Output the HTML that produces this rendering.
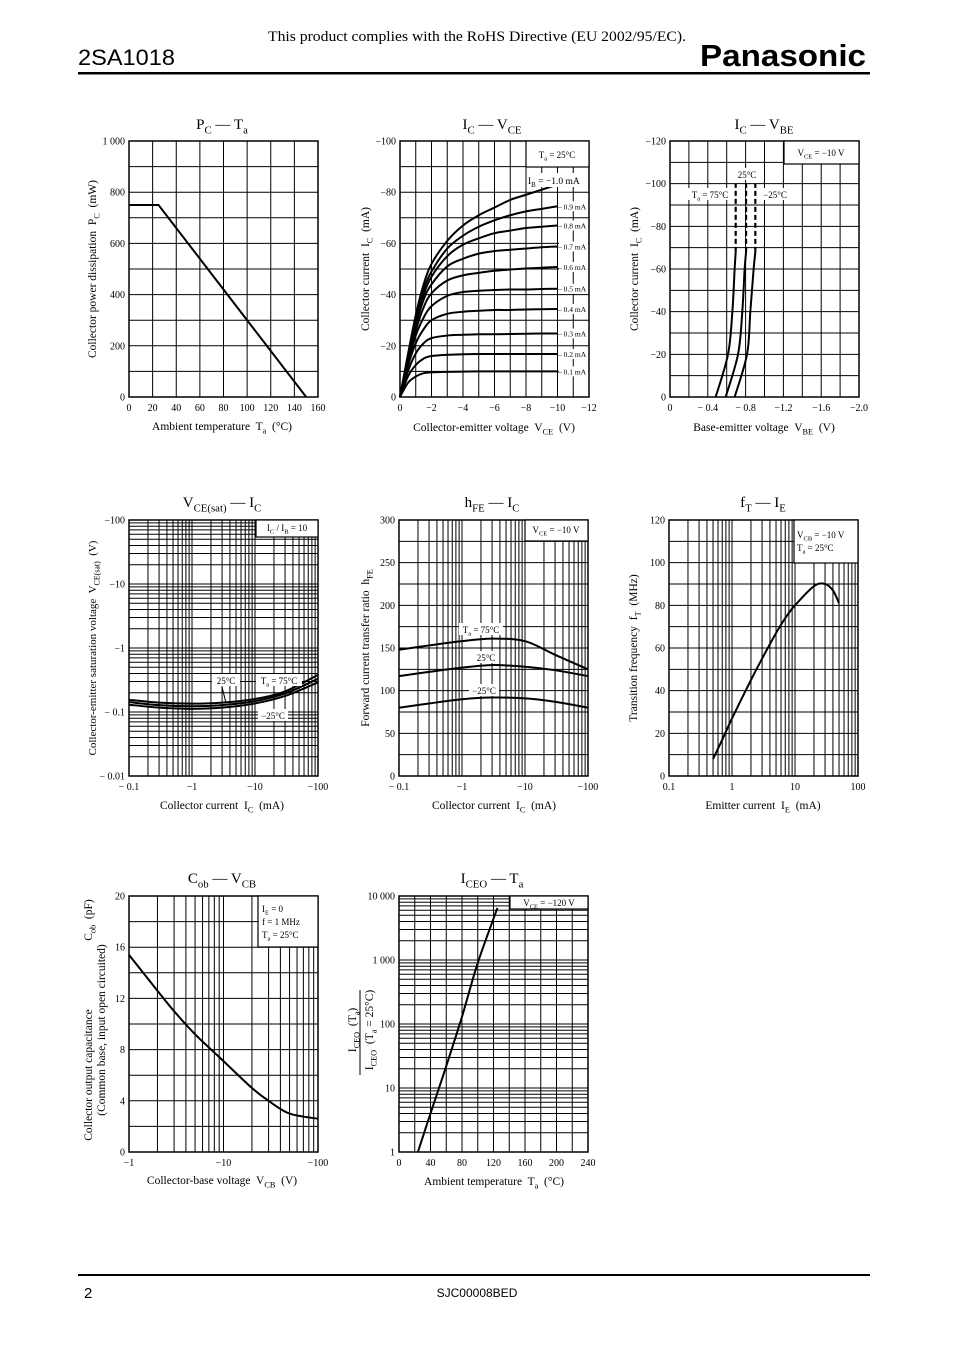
<!DOCTYPE html>
<html><head><meta charset="utf-8"><style>
html,body{margin:0;padding:0;background:#fff}
svg{display:block}
text{font-family:"Liberation Serif",serif;fill:#000;white-space:pre}
.sans{font-family:"Liberation Sans",sans-serif}
</style></head><body>
<svg id="page" width="954" height="1348" viewBox="0 0 954 1348" xmlns="http://www.w3.org/2000/svg">
<rect x="0" y="0" width="954" height="1348" fill="#fff"/>
<text x="268" y="41" font-size="15" textLength="418" lengthAdjust="spacingAndGlyphs">This product complies with the RoHS Directive (EU 2002/95/EC).</text>
<text class="sans" x="78" y="65" font-size="22" textLength="97" lengthAdjust="spacingAndGlyphs">2SA1018</text>
<text class="sans" x="700" y="66" font-size="31" font-weight="bold" textLength="166" lengthAdjust="spacingAndGlyphs">Panasonic</text>
<rect x="78" y="72" width="792" height="2.5" fill="#000"/>
<rect x="78" y="1274" width="792" height="2" fill="#000"/>
<text class="sans" x="84" y="1298" font-size="15">2</text>
<text class="sans" x="477" y="1297" font-size="12" text-anchor="middle">SJC00008BED</text>
</svg>
<script>
// ---- data ----
const pcTemps=[0,25,150];
const pcValues=[750,750,0];

const vceValues=[0,0.5,1,1.5,2,3,4,5,6,7,8,9,10];
const ibLabels=['0.1 mA','0.2 mA','0.3 mA','0.4 mA','0.5 mA','0.6 mA','0.7 mA','0.8 mA','0.9 mA','1.0 mA'];
const icIb01=[0,5.5,8,9.3,9.6,9.8,9.9,10,10,10,10,10,10];
const icIb02=[0,8,12.5,15,16,16.5,16.7,16.8,16.8,16.8,16.8,16.8,16.8];
const icIb03=[0,10,17,21,23,24,24.3,24.5,24.5,24.6,24.7,24.8,24.8];
const icIb04=[0,12,21,26.5,30,32.5,33.3,33.7,34,34,34.2,34.3,34.4];
const icIb05=[0,13,24,31,35.5,39.5,41,41.5,41.8,42,42,42.2,42.3];
const icIb06=[0,14,26,35,40.5,45.5,47.5,48.5,49.3,49.8,50.2,50.5,50.8];
const icIb07=[0,15,28,38,44,51,54,56,57,57.5,58,58.5,58.8];
const icIb08=[0,15.5,30,40,47,55,59.5,62,64,65,66,66.5,67];
const icIb09=[0,16,31,42,49,58,63,66.5,69,71,72.5,73.5,74.5];
const icIb10=[0,16.5,32,44,52,61,67,71,74,77,79,81,83];

const vbeIc=[0,20,40,60,68];
const vbe75=[0.483,0.614,0.66,0.684,0.695];
const vbe25=[0.589,0.72,0.765,0.79,0.805];
const vbeM25=[0.684,0.815,0.85,0.885,0.903];
const vbeDashTop=100;

const satIc=[0.1,0.3,1,3,10,30,100];
const sat75=[0.155,0.14,0.135,0.14,0.16,0.21,0.38];
const sat25=[0.143,0.128,0.123,0.128,0.148,0.195,0.33];
const satM25=[0.13,0.117,0.112,0.117,0.136,0.178,0.29];

const hfeIc=[0.1,0.3,1,3,10,30,100];
const hfe75=[148,153,158,161,158,142,125];
const hfe25=[117,122,127,130,128,124,117];
const hfeM25=[80,85,90,92,91,87,80];

const ftIe=[0.5,0.7,1,2,3,5,7,10,20,30,40,50];
const ftValues=[8,17,27,45,55,67,74,80,89,90,87,81];

const cobVcb=[1,2,3,5,10,20,30,50,100];
const cobValues=[15.4,12.6,11,9.2,7.1,5,4,3,2.6];

const iceoTa=[24,40,60,80,100,125];
const iceoRatio=[1,4,22,130,900,6500];

// ---- helpers ----
const NS='http://www.w3.org/2000/svg';
const svg=document.getElementById('page');
function el(tag,attrs,name,parent){
  const e=document.createElementNS(NS,tag);
  for(const k in attrs) e.setAttribute(k,attrs[k]);
  
  
  (parent||svg).appendChild(e);
  return e;
}
function lin(d0,d1,r0,r1){return v=>r0+(v-d0)/(d1-d0)*(r1-r0);}
function lg(d0,d1,r0,r1){const a=Math.log10(d0),b=Math.log10(d1);return v=>r0+(Math.log10(Math.abs(v))-a)/(b-a)*(r1-r0);}
function steps(a,b,s){const r=[];for(let v=a;v<=b+1e-9;v+=s)r.push(+v.toFixed(6));return r;}
function logSteps(a,b){const r=[];for(let d=a;d<b*0.999;d*=10){for(let m=1;m<10;m++)r.push(d*m);}r.push(b);return r;}
function tx(x,y,spec,size,anchor,name,parent,rot){
  const t=el('text',{x:x,y:y,'font-size':size,'text-anchor':anchor||'start'},name,parent);
  if(rot) t.setAttribute('transform','rotate(-90 '+x+' '+y+')');
  const parts=spec.split(/_\{([^}]*)\}/);
  parts.forEach((p,i)=>{
    if(p==='')return;
    const ts=document.createElementNS(NS,'tspan');
    ts.textContent=p;
    if(i%2===1){ts.setAttribute('font-size',size*0.72);ts.setAttribute('dy',size*0.3);}
    else if(i>0){ts.setAttribute('dy',-size*0.3);}
    t.appendChild(ts);
  });
  return t;
}
function smooth(pts){
  if(pts.length<3) return 'M'+pts.map(p=>p.join(',')).join('L');
  let d='M'+pts[0][0]+','+pts[0][1];
  for(let i=0;i<pts.length-1;i++){
    const p0=pts[i-1]||pts[i],p1=pts[i],p2=pts[i+1],p3=pts[i+2]||p2;
    const c1=[p1[0]+(p2[0]-p0[0])/6,p1[1]+(p2[1]-p0[1])/6];
    const c2=[p2[0]-(p3[0]-p1[0])/6,p2[1]-(p3[1]-p1[1])/6];
    d+='C'+c1.join(',')+' '+c2.join(',')+' '+p2.join(',');
  }
  return d;
}
function makeChart(name,x0,x1,y0,y1,sx,sy,gx,gy){
  const g=el('g',{},name);
  const grid=el('g',{stroke:'#000','stroke-width':1,fill:'none'},'grid',g);
  gx.forEach(v=>{const x=sx(v);el('line',{x1:x,x2:x,y1:y0,y2:y1},'grid-line-x',grid);});
  gy.forEach(v=>{const y=sy(v);el('line',{x1:x0,x2:x1,y1:y,y2:y},'grid-line-y',grid);});
  el('rect',{x:x0,y:y0,width:x1-x0,height:y1-y0,fill:'none',stroke:'#000','stroke-width':1.5},'plot-frame',g);
  return {g,x0,x1,y0,y1,sx,sy};
}
function xTicks(c,vals,labels){vals.forEach((v,i)=>tx(c.sx(v),c.y1+14,labels[i],10,'middle','x-tick-label',c.g));}
function yTicks(c,vals,labels){vals.forEach((v,i)=>tx(c.x0-4,c.sy(v)+3.5,labels[i],10,'end','y-tick-label',c.g));}
function curve(c,xs,ys,name,extra){
  const pts=xs.map((x,i)=>[+c.sx(x).toFixed(2),+c.sy(ys[i]).toFixed(2)]);
  const a={d:smooth(pts),fill:'none',stroke:'#000','stroke-width':2};
  if(extra)for(const k in extra)a[k]=extra[k];
  return el('path',a,name,c.g);
}
function polyline(c,xs,ys,name){
  const pts=xs.map((x,i)=>c.sx(x).toFixed(2)+','+c.sy(ys[i]).toFixed(2)).join(' ');
  return el('polyline',{points:pts,fill:'none',stroke:'#000','stroke-width':2},name,c.g);
}
function box(c,x,y,w,h,name){return el('rect',{x:x,y:y,width:w,height:h,fill:'#fff',stroke:'#000','stroke-width':1.2},name,c.g);}

// ---- Chart 1: PC - Ta ----
let c=makeChart('pc-ta-chart',129,318,141,397,lin(0,160,129,318),lin(0,1000,397,141),steps(0,160,20),steps(0,1000,100));
tx(222,129,'P_{C} — T_{a}',15,'middle','chart-title',c.g);
xTicks(c,steps(0,160,20),['0','20','40','60','80','100','120','140','160']);
yTicks(c,steps(0,1000,200),['0','200','400','600','800','1 000']);
polyline(c,pcTemps,pcValues,'pc-derating-line');
tx(222,430,'Ambient temperature  T_{a}  (°C)',11.5,'middle','x-axis-title',c.g);
tx(96,269,'Collector power dissipation  P_{C}  (mW)',11.5,'middle','y-axis-title',c.g,true);

// ---- Chart 2: IC - VCE ----
c=makeChart('ic-vce-chart',400,589,141,397,lin(0,12,400,589),lin(0,100,397,141),steps(0,12,1),steps(0,100,10));
tx(492,129,'I_{C} — V_{CE}',15,'middle','chart-title',c.g);
xTicks(c,steps(0,12,2),['0','−2','−4','−6','−8','−10','−12']);
yTicks(c,steps(0,100,20),['0','−20','−40','−60','−80','−100']);
box(c,526,141,63,26,'condition-box');
tx(557,158,'T_{a} = 25°C',9,'middle','condition-label',c.g);
const ibSeries=[icIb01,icIb02,icIb03,icIb04,icIb05,icIb06,icIb07,icIb08,icIb09,icIb10];
ibSeries.forEach((s,i)=>{
  curve(c,vceValues,s,'ib-curve-'+(i+1));
  if(i<9){
    const y=c.sy(s[s.length-1]);
    el('rect',{x:559,y:y-5,width:29,height:10,fill:'#fff'},'ib-label-bg',c.g);
    tx(558,y+3,'– '+ibLabels[i],7.5,'start','ib-label',c.g);
  }
});
el('rect',{x:527,y:173,width:61,height:14,fill:'#fff'},'ib-label-bg',c.g);
tx(528,184,'I_{B} = −1.0 mA',9.5,'start','ib-label',c.g);
tx(494,431,'Collector-emitter voltage  V_{CE}  (V)',11.5,'middle','x-axis-title',c.g);
tx(369,269,'Collector current  I_{C}  (mA)',11.5,'middle','y-axis-title',c.g,true);

// ---- Chart 3: IC - VBE ----
c=makeChart('ic-vbe-chart',670,859,141,397,lin(0,2,670,859),lin(0,120,397,141),steps(0,2,0.2),steps(0,120,10));
tx(764,129,'I_{C} — V_{BE}',15,'middle','chart-title',c.g);
xTicks(c,steps(0,2,0.4),['0','− 0.4','− 0.8','−1.2','−1.6','−2.0']);
yTicks(c,steps(0,120,20),['0','−20','−40','−60','−80','−100','−120']);
box(c,784,141,75,23,'condition-box');
tx(821,156,'V_{CE} = −10 V',9,'middle','condition-label',c.g);
[[vbe75,'vbe-curve-75c'],[vbe25,'vbe-curve-25c'],[vbeM25,'vbe-curve-minus25c']].forEach(([s,n])=>{
  const pts=vbeIc.map((y,i)=>[+c.sx(s[i]).toFixed(2),+c.sy(y).toFixed(2)]);
  el('path',{d:smooth(pts),fill:'none',stroke:'#000','stroke-width':2},n,c.g);
  const xe=c.sx(s[s.length-1]);
  el('line',{x1:xe,x2:xe,y1:c.sy(vbeIc[vbeIc.length-1]),y2:c.sy(vbeDashTop),stroke:'#000','stroke-width':2.2,'stroke-dasharray':'5,3'},n+'-dashed',c.g);
});
el('rect',{x:735,y:168,width:26,height:12,fill:'#fff'},'label-bg',c.g);
tx(747,178,'25°C',9,'middle','temp-label',c.g);
el('rect',{x:686,y:188,width:47,height:12,fill:'#fff'},'label-bg',c.g);
tx(710,198,'T_{a} = 75°C',9,'middle','temp-label',c.g);
el('rect',{x:760,y:188,width:30,height:12,fill:'#fff'},'label-bg',c.g);
tx(775,198,'−25°C',9,'middle','temp-label',c.g);
tx(764,431,'Base-emitter voltage  V_{BE}  (V)',11.5,'middle','x-axis-title',c.g);
tx(638,269,'Collector current  I_{C}  (mA)',11.5,'middle','y-axis-title',c.g,true);

// ---- Chart 4: VCE(sat) - IC ----
c=makeChart('vcesat-ic-chart',129,318,520,776,lg(0.1,100,129,318),lg(0.01,100,776,520),logSteps(0.1,100),logSteps(0.01,100));
tx(222,507,'V_{CE(sat)} — I_{C}',15,'middle','chart-title',c.g);
xTicks(c,[0.1,1,10,100],['− 0.1','−1','−10','−100']);
yTicks(c,[0.01,0.1,1,10,100],['− 0.01','− 0.1','−1','−10','−100']);
box(c,256,520,62,17,'condition-box');
tx(287,531,'I_{C} / I_{B} = 10',9,'middle','condition-label',c.g);
curve(c,satIc,sat75,'vcesat-curve-75c');
curve(c,satIc,sat25,'vcesat-curve-25c');
curve(c,satIc,satM25,'vcesat-curve-minus25c');
el('rect',{x:212,y:674,width:28,height:12,fill:'#fff'},'label-bg',c.g);
tx(226,684,'25°C',9,'middle','temp-label',c.g);
el('line',{x1:222,x2:226,y1:687,y2:703,stroke:'#000','stroke-width':1},'label-arrow',c.g);
el('rect',{x:256,y:674,width:46,height:12,fill:'#fff'},'label-bg',c.g);
tx(279,684,'T_{a} = 75°C',9,'middle','temp-label',c.g);
el('rect',{x:258,y:709,width:30,height:12,fill:'#fff'},'label-bg',c.g);
tx(273,719,'−25°C',9,'middle','temp-label',c.g);
tx(222,809,'Collector current  I_{C}  (mA)',11.5,'middle','x-axis-title',c.g);
tx(96,648,'Collector-emitter saturation voltage  V_{CE(sat)}  (V)',11,'middle','y-axis-title',c.g,true);

// ---- Chart 5: hFE - IC ----
c=makeChart('hfe-ic-chart',399,588,520,776,lg(0.1,100,399,588),lin(0,300,776,520),logSteps(0.1,100),steps(0,300,25));
tx(492,507,'h_{FE} — I_{C}',15,'middle','chart-title',c.g);
xTicks(c,[0.1,1,10,100],['− 0.1','−1','−10','−100']);
yTicks(c,steps(0,300,50),['0','50','100','150','200','250','300']);
box(c,525,520,63,21,'condition-box');
tx(556,533,'V_{CE} = −10 V',9,'middle','condition-label',c.g);
curve(c,hfeIc,hfe75,'hfe-curve-75c');
curve(c,hfeIc,hfe25,'hfe-curve-25c');
curve(c,hfeIc,hfeM25,'hfe-curve-minus25c');
el('rect',{x:459,y:623,width:44,height:12,fill:'#fff'},'label-bg',c.g);
tx(481,633,'T_{a} = 75°C',9,'middle','temp-label',c.g);
el('rect',{x:473,y:651,width:26,height:12,fill:'#fff'},'label-bg',c.g);
tx(486,661,'25°C',9,'middle','temp-label',c.g);
el('rect',{x:469,y:684,width:30,height:12,fill:'#fff'},'label-bg',c.g);
tx(484,694,'−25°C',9,'middle','temp-label',c.g);
tx(494,809,'Collector current  I_{C}  (mA)',11.5,'middle','x-axis-title',c.g);
tx(369,648,'Forward current transfer ratio  h_{FE}',11.5,'middle','y-axis-title',c.g,true);

// ---- Chart 6: fT - IE ----
c=makeChart('ft-ie-chart',669,858,520,776,lg(0.1,100,669,858),lin(0,120,776,520),logSteps(0.1,100),steps(0,120,10));
tx(763,507,'f_{T} — I_{E}',15,'middle','chart-title',c.g);
xTicks(c,[0.1,1,10,100],['0.1','1','10','100']);
yTicks(c,steps(0,120,20),['0','20','40','60','80','100','120']);
box(c,794,520,64,43,'condition-box');
tx(797,538,'V_{CB} = −10 V',9,'start','condition-label',c.g);
tx(797,551,'T_{a} = 25°C',9,'start','condition-label',c.g);
curve(c,ftIe,ftValues,'ft-curve');
tx(763,809,'Emitter current  I_{E}  (mA)',11.5,'middle','x-axis-title',c.g);
tx(637,648,'Transition frequency  f_{T}  (MHz)',11.5,'middle','y-axis-title',c.g,true);

// ---- Chart 7: Cob - VCB ----
c=makeChart('cob-vcb-chart',129,318,896,1152,lg(1,100,129,318),lin(0,20,1152,896),logSteps(1,100),steps(0,20,2));
tx(222,883,'C_{ob} — V_{CB}',15,'middle','chart-title',c.g);
xTicks(c,[1,10,100],['−1','−10','−100']);
yTicks(c,steps(0,20,4),['0','4','8','12','16','20']);
box(c,258,896,60,51,'condition-box');
tx(262,912,'I_{E} = 0',9,'start','condition-label',c.g);
tx(262,925,'f = 1 MHz',9,'start','condition-label',c.g);
tx(262,938,'T_{a} = 25°C',9,'start','condition-label',c.g);
curve(c,cobVcb,cobValues,'cob-curve');
tx(222,1184,'Collector-base voltage  V_{CB}  (V)',11.5,'middle','x-axis-title',c.g);
tx(92,1075,'Collector output capacitance',11.5,'middle','y-axis-title',c.g,true);
tx(92,920,'C_{ob}  (pF)',11.5,'middle','y-axis-unit',c.g,true);
tx(105,1030,'(Common base, input open circuited)',11.5,'middle','y-axis-subtitle',c.g,true);

// ---- Chart 8: ICEO - Ta ----
c=makeChart('iceo-ta-chart',399,588,896,1152,lin(0,240,399,588),lg(1,10000,1152,896),steps(0,240,20),logSteps(1,10000));
tx(492,883,'I_{CEO} — T_{a}',15,'middle','chart-title',c.g);
xTicks(c,steps(0,240,40),['0','40','80','120','160','200','240']);
yTicks(c,[1,10,100,1000,10000],['1','10','100','1 000','10 000']);
box(c,510,896,78,13,'condition-box');
tx(549,906,'V_{CE} = −120 V',9,'middle','condition-label',c.g);
curve(c,iceoTa,iceoRatio,'iceo-curve');
tx(494,1185,'Ambient temperature  T_{a}  (°C)',11.5,'middle','x-axis-title',c.g);
tx(356,1030,'I_{CEO}  (T_{a})',11.5,'middle','y-axis-numerator',c.g,true);
el('line',{x1:360,x2:360,y1:1075,y2:990,stroke:'#000','stroke-width':1},'fraction-bar',c.g);
tx(373,1030,'I_{CEO}  (T_{a} = 25°C)',11.5,'middle','y-axis-denominator',c.g,true);
</script>
</body></html>
